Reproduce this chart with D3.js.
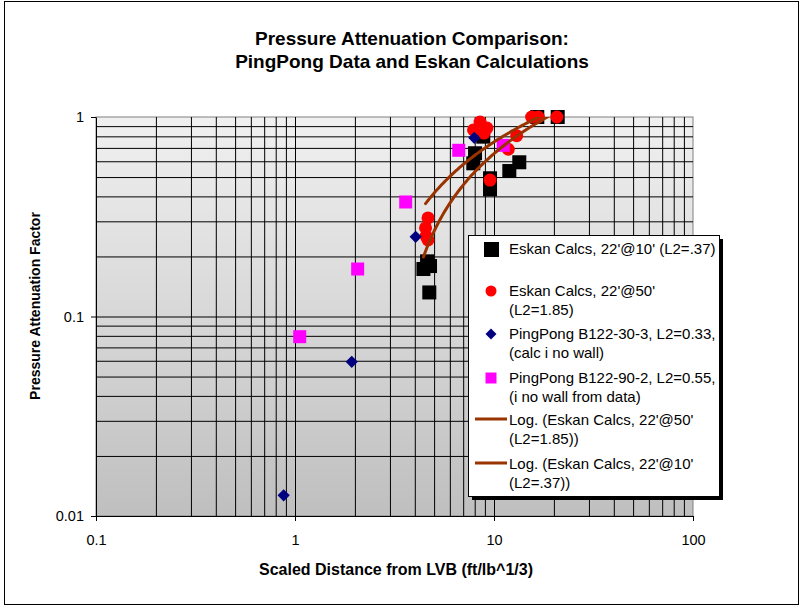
<!DOCTYPE html>
<html>
<head>
<meta charset="utf-8">
<script src="https://cdn.jsdelivr.net/npm/d3@7"></script>
<style>
  html, body { margin: 0; padding: 0; background: #fff; }
  svg text { font-family: "Liberation Sans", Arial, sans-serif; }
</style>
</head>
<body>
<svg id="chart" width="804" height="607"></svg>
<script>
// ---- Data ----
// Eskan calculations, 22' @ 10' (L2 = .37)
const eskan10X = [4.42, 4.61, 4.77, 4.73, 7.87, 8.03, 8.83, 9.55, 9.55, 11.94, 13.4, 16.5, 20.9];
const eskan10Y = [0.173, 0.189, 0.179, 0.132, 0.586, 0.658, 0.797, 0.493, 0.434, 0.536, 0.593, 1.0, 1.0];
// Eskan calculations, 22' @ 50' (L2 = 1.85)
const eskan50X = [4.66, 4.53, 4.56, 4.66, 7.89, 8.51, 9.22, 8.91, 9.55, 11.8, 13.0, 15.45, 16.7, 20.7];
const eskan50Y = [0.312, 0.278, 0.253, 0.242, 0.861, 0.944, 0.881, 0.831, 0.483, 0.689, 0.806, 1.0, 1.0, 1.0];
// PingPong B122-30-3
const pp30X = [0.877, 1.928, 4.04, 7.96];
const pp30Y = [0.0127, 0.0593, 0.251, 0.787];
// PingPong B122-90-2
const pp90X = [1.056, 2.065, 3.60, 6.65, 11.13];
const pp90Y = [0.0792, 0.173, 0.375, 0.681, 0.721];
// Logarithmic trendlines, y = a*ln(x) + b
const trend50Coef = [0.4824, -0.361];
const trend10Coef = [0.559, -0.632];

// Axis tick labels
const xTickLabels = ["0.1", "1", "10", "100"];
const yTickLabels = ["0.01", "0.1", "1"];

// Legend text
const legendLabels = [
  ["Eskan Calcs, 22'@10' (L2=.37)"],
  ["Eskan Calcs, 22'@50'", "(L2=1.85)"],
  ["PingPong B122-30-3, L2=0.33,", "(calc i no wall)"],
  ["PingPong B122-90-2, L2=0.55,", "(i no wall from data)"],
  ["Log. (Eskan Calcs, 22'@50'", "(L2=1.85))"],
  ["Log. (Eskan Calcs, 22'@10'", "(L2=.37))"]
];

// ---- Layout ----
const svg = d3.select("#chart");
const plotL = 96, plotR = 693, plotT = 117, plotB = 516;
const x = d3.scaleLog().domain([0.1, 100]).range([plotL, plotR]);
const y = d3.scaleLog().domain([0.01, 1]).range([plotB, plotT]);
const zip = (xs, ys) => xs.map((v, i) => ({ x: v, y: ys[i] }));

// outer chart frame
svg.append("rect").attr("x", 4.5).attr("y", 1.5).attr("width", 794).attr("height", 603)
  .attr("fill", "#fff").attr("stroke", "#000").attr("stroke-width", 1);

// plot background gradient
const defs = svg.append("defs");
const grad = defs.append("linearGradient").attr("id", "bg").attr("x1", 0).attr("y1", 0).attr("x2", 0).attr("y2", 1);
grad.append("stop").attr("offset", "0%").attr("stop-color", "#f0f0f0");
grad.append("stop").attr("offset", "100%").attr("stop-color", "#bfbfbf");
defs.append("clipPath").attr("id", "plotClip").append("rect")
  .attr("x", plotL).attr("y", plotT).attr("width", plotR - plotL).attr("height", plotB - plotT);

svg.append("rect").attr("x", plotL).attr("y", plotT).attr("width", plotR - plotL).attr("height", plotB - plotT)
  .attr("fill", "url(#bg)").attr("stroke", "#808080").attr("stroke-width", 1);

// grid lines (every 1..9 per decade)
const gridX = svg.append("g").attr("transform", `translate(0,${plotB})`)
  .call(d3.axisBottom(x).ticks(30).tickSize(-(plotB - plotT)).tickFormat(""));
const gridY = svg.append("g").attr("transform", `translate(${plotL},0)`)
  .call(d3.axisLeft(y).ticks(30).tickSize(-(plotR - plotL)).tickFormat(""));
[gridX, gridY].forEach(g => {
  g.select(".domain").remove();
  g.selectAll(".tick line").attr("stroke", "#000").attr("stroke-width", 1);
});
gridX.selectAll(".tick").filter(d => d <= 0.1 || d >= 100).remove();
gridY.selectAll(".tick").filter(d => d <= 0.01 || d >= 1).remove();

// axes with major ticks
const xMajor = xTickLabels.map(Number);
const yMajor = yTickLabels.map(Number);
const xAxis = svg.append("g").attr("transform", `translate(0,${plotB})`)
  .call(d3.axisBottom(x).tickValues(xMajor).tickSizeInner(5).tickSizeOuter(0)
    .tickFormat((d, i) => xTickLabels[i]));
const yAxis = svg.append("g").attr("transform", `translate(${plotL},0)`)
  .call(d3.axisLeft(y).tickValues(yMajor).tickSizeInner(5).tickSizeOuter(0)
    .tickFormat((d, i) => yTickLabels[i]));
[xAxis, yAxis].forEach(g => {
  g.select(".domain").attr("stroke", "#000").attr("stroke-width", 1);
  g.selectAll(".tick line").attr("stroke", "#000");
  g.selectAll(".tick text").attr("fill", "#000").style("font-size", "14.5px")
    .style("font-family", "'Liberation Sans', Arial, sans-serif");
});
xAxis.selectAll(".tick text").attr("y", 28.5).attr("dy", 0);
yAxis.selectAll(".tick text").attr("x", -12);

// ---- Series ----
const plot = svg.append("g");

plot.append("g").selectAll("rect").data(zip(eskan10X, eskan10Y)).join("rect")
  .attr("x", d => x(d.x) - 7).attr("y", d => y(d.y) - 7)
  .attr("width", 14).attr("height", 14).attr("fill", "#000");

plot.append("g").selectAll("circle").data(zip(eskan50X, eskan50Y)).join("circle")
  .attr("cx", d => x(d.x)).attr("cy", d => y(d.y)).attr("r", 6.5).attr("fill", "#ff0000");

const diamond = d3.symbol().type(d3.symbolSquare).size(75);
plot.append("g").selectAll("path").data(zip(pp30X, pp30Y)).join("path")
  .attr("d", diamond)
  .attr("transform", d => `translate(${x(d.x)},${y(d.y)}) rotate(45)`)
  .attr("fill", "#000080");

plot.append("g").selectAll("rect").data(zip(pp90X, pp90Y)).join("rect")
  .attr("x", d => x(d.x) - 6.5).attr("y", d => y(d.y) - 6.5)
  .attr("width", 13).attr("height", 13).attr("fill", "#ff00ff");

// trendlines over each series' x range, clipped to the plot
function trendPoints(xs, coef) {
  const [lo, hi] = d3.extent(xs);
  const l0 = Math.log(lo), l1 = Math.log(hi);
  return d3.range(0, 101).map(i => {
    const xv = Math.exp(l0 + (l1 - l0) * i / 100);
    return { x: xv, y: coef[0] * Math.log(xv) + coef[1] };
  });
}
const trendLine = d3.line().x(d => x(d.x)).y(d => y(d.y)).curve(d3.curveLinear);
const trends = svg.append("g").attr("clip-path", "url(#plotClip)");
[[eskan50X, trend50Coef], [eskan10X, trend10Coef]].forEach(([xs, coef]) => {
  trends.append("path").datum(trendPoints(xs, coef))
    .attr("d", trendLine).attr("fill", "none")
    .attr("stroke", "#993300").attr("stroke-width", 3).attr("stroke-linecap", "round");
});

// ---- Titles ----
svg.append("text").attr("x", 412).attr("y", 45).attr("text-anchor", "middle")
  .style("font-size", "19px").style("font-weight", "bold").text("Pressure Attenuation Comparison:");
svg.append("text").attr("x", 412).attr("y", 68).attr("text-anchor", "middle")
  .style("font-size", "19px").style("font-weight", "bold").text("PingPong Data and Eskan Calculations");
svg.append("text").attr("x", 396).attr("y", 575).attr("text-anchor", "middle")
  .style("font-size", "16px").style("font-weight", "bold").text("Scaled Distance from LVB (ft/lb^1/3)");
svg.append("text").attr("transform", "translate(40,306) rotate(-90)").attr("text-anchor", "middle")
  .style("font-size", "14px").style("font-weight", "bold").text("Pressure Attenuation Factor");

// ---- Legend ----
const lg = svg.append("g");
lg.append("rect").attr("x", 472).attr("y", 239).attr("width", 251).attr("height", 261).attr("fill", "#000");
lg.append("rect").attr("x", 468.5).attr("y", 235.5).attr("width", 251).attr("height", 261)
  .attr("fill", "#fff").attr("stroke", "#000").attr("stroke-width", 1);

const entryY = [248, 290, 333, 377, 419, 463];
const lineGap = 19;
const mx = 491;
legendLabels.forEach((lines, i) => {
  const cy = entryY[i];
  if (i === 0) {
    lg.append("rect").attr("x", mx - 7).attr("y", cy - 6).attr("width", 15).attr("height", 15).attr("fill", "#000");
  } else if (i === 1) {
    lg.append("circle").attr("cx", mx).attr("cy", cy + 1).attr("r", 5.5).attr("fill", "#ff0000");
  } else if (i === 2) {
    lg.append("path").attr("d", d3.symbol().type(d3.symbolSquare).size(60))
      .attr("transform", `translate(${mx},${cy + 1}) rotate(45)`).attr("fill", "#000080");
  } else if (i === 3) {
    lg.append("rect").attr("x", mx - 5.5).attr("y", cy - 4.5).attr("width", 11).attr("height", 11).attr("fill", "#ff00ff");
  } else {
    lg.append("line").attr("x1", 475).attr("x2", 507).attr("y1", cy).attr("y2", cy)
      .attr("stroke", "#993300").attr("stroke-width", 3);
  }
  lines.forEach((t, j) => {
    lg.append("text").attr("x", 509).attr("y", cy + j * lineGap + 5.5)
      .style("font-size", "15px").attr("fill", "#000").text(t);
  });
});
</script>
</body>
</html>
